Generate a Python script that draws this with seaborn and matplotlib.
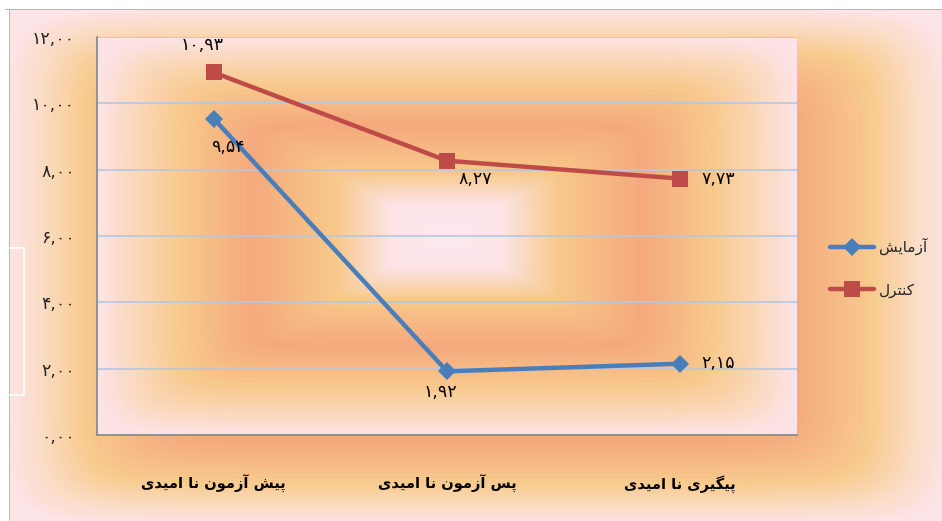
import numpy as np
import pandas as pd
import matplotlib
matplotlib.use("Agg")
import matplotlib.pyplot as plt
import seaborn as sns
from matplotlib.colors import LinearSegmentedColormap
from matplotlib.lines import Line2D
from matplotlib.patches import Rectangle
from matplotlib.ticker import FuncFormatter

# ---------------- data ----------------
categories = ["پیش آزمون نا امیدی", "پس آزمون نا امیدی", "پیگیری نا امیدی"]
series_names = ["آزمایش", "کنترل"]
experiment = [9.54, 1.92, 2.15]
control = [10.93, 8.27, 7.73]
y_ticks = [0, 2, 4, 6, 8, 10, 12]

# ---------------- Persian helpers (manual shaping, visual order) ----------------
FORMS = {
    'ا': ('\uFE8D', '\uFE8E', None, None),
    'آ': ('\uFE81', '\uFE82', None, None),
    'د': ('\uFEA9', '\uFEAA', None, None),
    'ر': ('\uFEAD', '\uFEAE', None, None),
    'ز': ('\uFEAF', '\uFEB0', None, None),
    'و': ('\uFEED', '\uFEEE', None, None),
    'پ': ('\uFB56', '\uFB57', '\uFB58', '\uFB59'),
    'ت': ('\uFE95', '\uFE96', '\uFE97', '\uFE98'),
    'س': ('\uFEB1', '\uFEB2', '\uFEB3', '\uFEB4'),
    'ش': ('\uFEB5', '\uFEB6', '\uFEB7', '\uFEB8'),
    'ل': ('\uFEDD', '\uFEDE', '\uFEDF', '\uFEE0'),
    'م': ('\uFEE1', '\uFEE2', '\uFEE3', '\uFEE4'),
    'ن': ('\uFEE5', '\uFEE6', '\uFEE7', '\uFEE8'),
    'ی': ('\uFBFC', '\uFBFD', '\uFBFE', '\uFBFF'),
    'ک': ('\uFB8E', '\uFB8F', '\uFB90', '\uFB91'),
    'گ': ('\uFB92', '\uFB93', '\uFB94', '\uFB95'),
}


def shape(text):
    text = text.replace('ي', 'ی').replace('ك', 'ک')
    out = []
    n = len(text)
    for i, ch in enumerate(text):
        if ch not in FORMS:
            out.append(ch)
            continue
        iso, fin, ini, med = FORMS[ch]
        prev = text[i - 1] if i > 0 else ''
        nxt = text[i + 1] if i + 1 < n else ''
        jp = prev in FORMS and FORMS[prev][2] is not None
        jn = ini is not None and nxt in FORMS
        if jp and jn:
            out.append(med)
        elif jp:
            out.append(fin)
        elif jn:
            out.append(ini)
        else:
            out.append(iso)
    return ''.join(out)[::-1]


FA_DIGITS = str.maketrans('0123456789.', '۰۱۲۳۴۵۶۷۸۹,')


def fa_num(v):
    return f"{v:.2f}".translate(FA_DIGITS)


# ---------------- figure ----------------
sns.set_style("white")
plt.rcParams['font.family'] = ['DejaVu Sans']

W, H = 942, 521
fig = plt.figure(figsize=(W / 100, H / 100), dpi=100)

plot_grad = LinearSegmentedColormap.from_list(
    "plotbg",
    [(0.0, '#fde9ef'), (0.16, '#fce4e7'), (0.32, '#f8c98a'), (0.56, '#f5a97d'),
     (0.76, '#f8c98c'), (0.9, '#fbd9bd'), (1.0, '#fde3e5')])
chart_grad = LinearSegmentedColormap.from_list(
    "chartbg",
    [(0.0, '#fde9ef'), (0.3, '#f8c98a'), (0.55, '#f5a97d'), (0.68, '#f5aa7e'),
     (0.84, '#f8cb8e'), (0.93, '#fbdcc4'), (1.0, '#fde4e6')])


def rect_dist(dx, dy, p=12):
    return ((np.abs(dx) ** p + np.abs(dy) ** p) ** (1 / p)).clip(0, 1)


# chart-area background
bg = fig.add_axes([0, 0, 1, 1], zorder=0)
xs = np.arange(W) + 0.5
ys = np.arange(H) + 0.5
X, Y = np.meshgrid(xs, ys)
d = rect_dist((X - 478) / 470, (Y - 267) / 258)
img = chart_grad(d)
img[:9, :, :3] = 1.0
img[:, :9, :3] = 1.0
img[9, 5:, :3] = 0.72
img[9:, 9, :3] = 0.72
bg.imshow(img, extent=(0, W, H, 0), aspect='auto', interpolation='bilinear')
bg.add_patch(Rectangle((8, 248), 16, 147, fill=False, ec='white', lw=1.2))
bg.set_xlim(0, W)
bg.set_ylim(H, 0)
bg.axis('off')

# plot area
L, R, T, B = 97, 797, 37, 435
ax = fig.add_axes([L / W, (H - B) / H, (R - L) / W, (B - T) / H], zorder=1)
ax.patch.set_visible(False)

gx = np.linspace(-1, 1, 350)
gy = np.linspace(-1, 1, 200)
GX, GY = np.meshgrid(gx, gy)
ax.imshow(plot_grad(rect_dist(GX, GY)), extent=(-0.5, 2.5, 0, 12), aspect='auto',
          interpolation='bilinear', zorder=0)

df = pd.DataFrame({
    "category": categories * 2,
    "value": experiment + control,
    "group": [series_names[0]] * 3 + [series_names[1]] * 3,
})
colors = {series_names[0]: '#4a7ebb', series_names[1]: '#be4b48'}
markers = {series_names[0]: 'D', series_names[1]: 's'}
msizes = {'D': 9.5, 's': 11.5}

sns.lineplot(data=df, x="category", y="value", hue="group", style="group",
             hue_order=series_names, style_order=series_names,
             palette=colors, markers=markers, dashes=False, sort=False,
             lw=3.2, markersize=10, markeredgewidth=0, legend=False, ax=ax,
             zorder=3)
for ln in ax.lines:
    ln.set_markersize(msizes.get(ln.get_marker(), 10))

ax.set_xlim(-0.5, 2.5)
ax.set_ylim(0, 12)
ax.set_xlabel("")
ax.set_ylabel("")
ax.set_yticks(y_ticks)
ax.yaxis.set_major_formatter(FuncFormatter(lambda v, p: fa_num(v)))
ax.set_xticks(range(len(categories)))
ax.set_xticklabels([shape(c) for c in categories], fontweight='bold', fontsize=10.5)
ax.set_xticks([-0.5, 0.5, 1.5, 2.5], minor=True)
ax.tick_params(axis='x', which='major', length=0, pad=29, colors='black')
ax.tick_params(axis='x', which='minor', length=6, width=1.2, color='#8c8c8c',
               direction='out')
ax.tick_params(axis='y', length=4, width=1.2, color='#8c8c8c', pad=12,
               labelsize=12.5, direction='out')
ax.set_axisbelow(True)
ax.yaxis.grid(True, color='#b4c8e2', lw=1.2)
ax.xaxis.grid(False)
for s in ['top', 'right']:
    ax.spines[s].set_visible(False)
for s in ['left', 'bottom']:
    ax.spines[s].set_color('#8c8c8c')
    ax.spines[s].set_linewidth(1.3)
    ax.spines[s].set_zorder(4)

# data labels (offsets in px -> points)
label_offsets_px = {
    (0, 0): (14, -28), (0, 1): (-7, -21), (0, 2): (38, 1),
    (1, 0): (-11, 27), (1, 1): (28, -18), (1, 2): (38, 0),
}
for si, vals in enumerate([experiment, control]):
    for ci, v in enumerate(vals):
        dx, dy = label_offsets_px[(si, ci)]
        ax.annotate(fa_num(v), (ci, v), xytext=(dx * 0.72, dy * 0.72),
                    textcoords='offset points', ha='center', va='center',
                    fontsize=12.5, color='black', zorder=5)

# legend
handles = [Line2D([], [], color=colors[n], marker=markers[n], lw=3.2,
                  markersize=msizes[markers[n]], markeredgewidth=0)
           for n in series_names]
fig.legend(handles, [shape(n) for n in series_names], loc='center left',
           bbox_to_anchor=(822 / W, 1 - 268 / H), frameon=False, fontsize=11,
           handlelength=2.9, handletextpad=0.3, labelspacing=1.8, borderpad=0)

fig.savefig("out.png", dpi=100)
